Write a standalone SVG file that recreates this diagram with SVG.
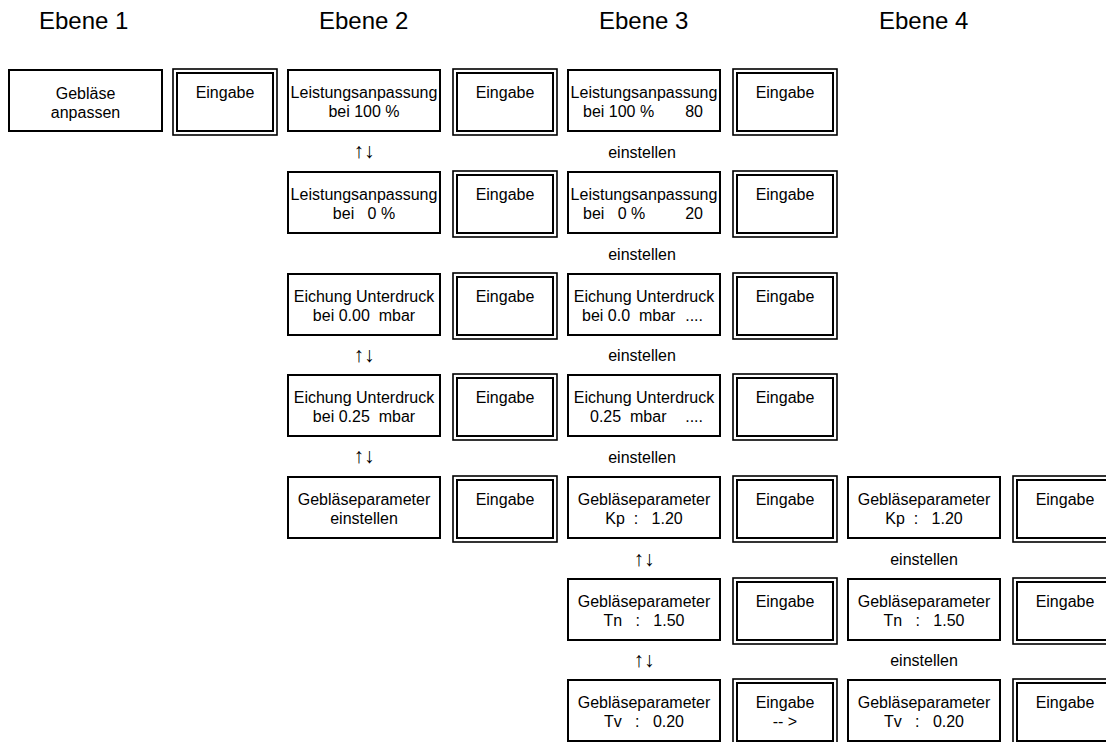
<svg xmlns="http://www.w3.org/2000/svg" width="1106" height="742" viewBox="0 0 1106 742">
<style>
.b{fill:#fff;stroke:#000;stroke-width:2}
.o{fill:#fff;stroke:#000;stroke-width:1.6}
.i{fill:none;stroke:#000;stroke-width:2}
text{font-family:"Liberation Sans",Arial,sans-serif;font-size:16px;fill:#000}
.c{text-anchor:middle}
.e{text-anchor:end}
.h{font-size:24px}
.a{font-size:21px}
</style>
<rect width="1106" height="742" fill="#fff"/>
<g id="headers">
<text class="h" x="39" y="29">Ebene 1</text>
<text class="h" x="319" y="29">Ebene 2</text>
<text class="h" x="599" y="29">Ebene 3</text>
<text class="h" x="879" y="29">Ebene 4</text>
</g>
<g id="e1-gebl">
<rect class="b" x="9" y="70" width="153" height="61"/>
<text class="c" x="85.5" y="99">Gebläse</text><text class="c" x="85.5" y="118">anpassen</text>
</g>
<g id="e1-eing"><rect class="o" x="173" y="69" width="104" height="66"/><rect class="i" x="177" y="73" width="96" height="58"/><text class="c" x="225" y="98">Eingabe</text></g>

<g id="e2-r1"><rect class="b" x="288" y="70" width="152" height="61"/><text class="c" x="364" y="98">Leistungsanpassung</text><text class="c" x="364" y="117">bei 100 %</text></g>
<g id="e2-r1-eing"><rect class="o" x="453" y="69" width="104" height="66"/><rect class="i" x="457" y="73" width="96" height="58"/><text class="c" x="505" y="98">Eingabe</text></g>
<g id="e2-r2"><rect class="b" x="288" y="172" width="152" height="61"/><text class="c" x="364" y="200">Leistungsanpassung</text><text class="c" x="364" y="219" xml:space="preserve">bei   0 %</text></g>
<g id="e2-r2-eing"><rect class="o" x="453" y="171" width="104" height="66"/><rect class="i" x="457" y="175" width="96" height="58"/><text class="c" x="505" y="200">Eingabe</text></g>
<g id="e2-r3"><rect class="b" x="288" y="274" width="152" height="61"/><text class="c" x="364" y="302">Eichung Unterdruck</text><text class="c" x="364" y="321" xml:space="preserve">bei 0.00  mbar</text></g>
<g id="e2-r3-eing"><rect class="o" x="453" y="273" width="104" height="66"/><rect class="i" x="457" y="277" width="96" height="58"/><text class="c" x="505" y="302">Eingabe</text></g>
<g id="e2-r4"><rect class="b" x="288" y="375" width="152" height="61"/><text class="c" x="364" y="403">Eichung Unterdruck</text><text class="c" x="364" y="422" xml:space="preserve">bei 0.25  mbar</text></g>
<g id="e2-r4-eing"><rect class="o" x="453" y="374" width="104" height="66"/><rect class="i" x="457" y="378" width="96" height="58"/><text class="c" x="505" y="403">Eingabe</text></g>
<g id="e2-r5"><rect class="b" x="288" y="477" width="152" height="61"/><text class="c" x="364" y="505">Gebläseparameter</text><text class="c" x="364" y="524">einstellen</text></g>
<g id="e2-r5-eing"><rect class="o" x="453" y="476" width="104" height="66"/><rect class="i" x="457" y="480" width="96" height="58"/><text class="c" x="505" y="505">Eingabe</text></g>

<g id="e3-r1"><rect class="b" x="568" y="70" width="152" height="61"/><text class="c" x="644" y="98">Leistungsanpassung</text><text x="583" y="117">bei 100 %</text><text class="e" x="703" y="117">80</text></g>
<g id="e3-r1-eing"><rect class="o" x="733" y="69" width="104" height="66"/><rect class="i" x="737" y="73" width="96" height="58"/><text class="c" x="785" y="98">Eingabe</text></g>
<g id="e3-r2"><rect class="b" x="568" y="172" width="152" height="61"/><text class="c" x="644" y="200">Leistungsanpassung</text><text x="583" y="219" xml:space="preserve">bei   0 %</text><text class="e" x="703" y="219">20</text></g>
<g id="e3-r2-eing"><rect class="o" x="733" y="171" width="104" height="66"/><rect class="i" x="737" y="175" width="96" height="58"/><text class="c" x="785" y="200">Eingabe</text></g>
<g id="e3-r3"><rect class="b" x="568" y="274" width="152" height="61"/><text class="c" x="644" y="302">Eichung Unterdruck</text><text x="582" y="321" xml:space="preserve">bei 0.0  mbar</text><text class="e" x="703" y="321">....</text></g>
<g id="e3-r3-eing"><rect class="o" x="733" y="273" width="104" height="66"/><rect class="i" x="737" y="277" width="96" height="58"/><text class="c" x="785" y="302">Eingabe</text></g>
<g id="e3-r4"><rect class="b" x="568" y="375" width="152" height="61"/><text class="c" x="644" y="403">Eichung Unterdruck</text><text x="590" y="422" xml:space="preserve">0.25  mbar</text><text class="e" x="703" y="422">....</text></g>
<g id="e3-r4-eing"><rect class="o" x="733" y="374" width="104" height="66"/><rect class="i" x="737" y="378" width="96" height="58"/><text class="c" x="785" y="403">Eingabe</text></g>
<g id="e3-r5"><rect class="b" x="568" y="477" width="152" height="61"/><text class="c" x="644" y="505">Gebläseparameter</text><text class="c" x="644" y="524" xml:space="preserve">Kp  :   1.20</text></g>
<g id="e3-r5-eing"><rect class="o" x="733" y="476" width="104" height="66"/><rect class="i" x="737" y="480" width="96" height="58"/><text class="c" x="785" y="505">Eingabe</text></g>
<g id="e3-r6"><rect class="b" x="568" y="579" width="152" height="61"/><text class="c" x="644" y="607">Gebläseparameter</text><text class="c" x="644" y="626" xml:space="preserve">Tn   :   1.50</text></g>
<g id="e3-r6-eing"><rect class="o" x="733" y="578" width="104" height="66"/><rect class="i" x="737" y="582" width="96" height="58"/><text class="c" x="785" y="607">Eingabe</text></g>
<g id="e3-r7"><rect class="b" x="568" y="680" width="152" height="61"/><text class="c" x="644" y="708">Gebläseparameter</text><text class="c" x="644" y="727" xml:space="preserve">Tv   :   0.20</text></g>
<g id="e3-r7-eing"><rect class="o" x="733" y="679" width="104" height="66"/><rect class="i" x="737" y="683" width="96" height="58"/><text class="c" x="785" y="708">Eingabe</text><text class="c" x="785" y="727">-- &gt;</text></g>

<g id="e4-r5"><rect class="b" x="848" y="477" width="152" height="61"/><text class="c" x="924" y="505">Gebläseparameter</text><text class="c" x="924" y="524" xml:space="preserve">Kp  :   1.20</text></g>
<g id="e4-r5-eing"><rect class="o" x="1013" y="476" width="104" height="66"/><rect class="i" x="1017" y="480" width="96" height="58"/><text class="c" x="1065" y="505">Eingabe</text></g>
<g id="e4-r6"><rect class="b" x="848" y="579" width="152" height="61"/><text class="c" x="924" y="607">Gebläseparameter</text><text class="c" x="924" y="626" xml:space="preserve">Tn   :   1.50</text></g>
<g id="e4-r6-eing"><rect class="o" x="1013" y="578" width="104" height="66"/><rect class="i" x="1017" y="582" width="96" height="58"/><text class="c" x="1065" y="607">Eingabe</text></g>
<g id="e4-r7"><rect class="b" x="848" y="680" width="152" height="61"/><text class="c" x="924" y="708">Gebläseparameter</text><text class="c" x="924" y="727" xml:space="preserve">Tv   :   0.20</text></g>
<g id="e4-r7-eing"><rect class="o" x="1013" y="679" width="104" height="66"/><rect class="i" x="1017" y="683" width="96" height="58"/><text class="c" x="1065" y="708">Eingabe</text></g>

<g id="connectors">
<text class="c a" x="364" y="158">↑↓</text>
<text class="c a" x="364" y="362">↑↓</text>
<text class="c a" x="364" y="463">↑↓</text>
<text class="c" x="642" y="158">einstellen</text>
<text class="c" x="642" y="260">einstellen</text>
<text class="c" x="642" y="361">einstellen</text>
<text class="c" x="642" y="463">einstellen</text>
<text class="c a" x="644" y="566">↑↓</text>
<text class="c a" x="644" y="667">↑↓</text>
<text class="c" x="924" y="565">einstellen</text>
<text class="c" x="924" y="666">einstellen</text>
</g>
</svg>
